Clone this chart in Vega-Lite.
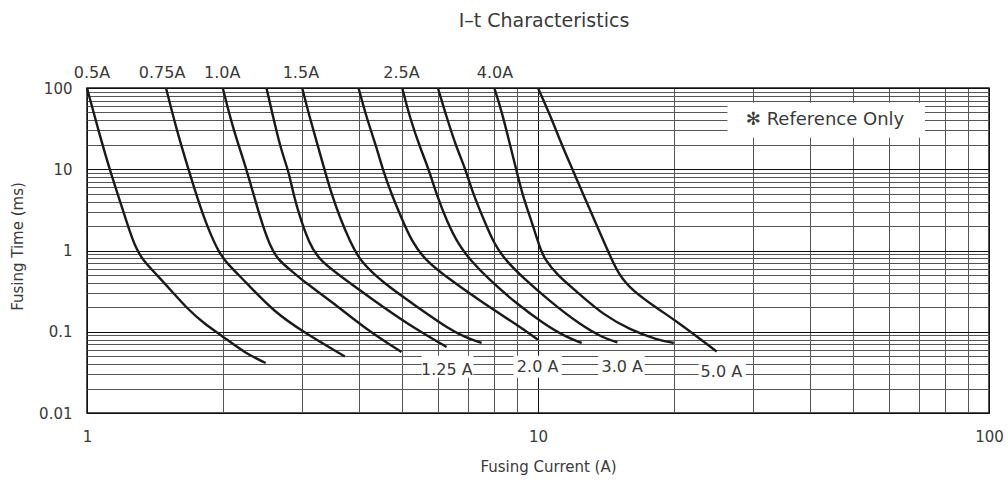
{
  "$schema": "https://vega.github.io/schema/vega-lite/v6.json",
  "width": 902,
  "height": 325,
  "autosize": {"type": "none"},
  "padding": {"left": 87, "top": 88, "right": 19, "bottom": 73},
  "background": "white",
  "config": {
    "font": "DejaVu Sans",
    "view": {"stroke": "#1a1a1a", "strokeWidth": 1.5}
  },
  "title": {
    "text": "I–t Characteristics",
    "fontSize": 19,
    "fontWeight": "normal",
    "color": "#3a3a3a",
    "anchor": "middle",
    "dx": 6,
    "offset": 34
  },
  "datasets": {
    "curves": [
      {"curve": "0.5A", "I": 1.0, "t": 100},
      {"curve": "0.5A", "I": 1.059, "t": 30.7},
      {"curve": "0.5A", "I": 1.122, "t": 10},
      {"curve": "0.5A", "I": 1.194, "t": 3.49},
      {"curve": "0.5A", "I": 1.24, "t": 1.8},
      {"curve": "0.5A", "I": 1.285, "t": 1.05},
      {"curve": "0.5A", "I": 1.333, "t": 0.75},
      {"curve": "0.5A", "I": 1.427, "t": 0.504},
      {"curve": "0.5A", "I": 1.554, "t": 0.3},
      {"curve": "0.5A", "I": 1.664, "t": 0.196},
      {"curve": "0.5A", "I": 1.811, "t": 0.128},
      {"curve": "0.5A", "I": 2.0, "t": 0.0877},
      {"curve": "0.5A", "I": 2.24, "t": 0.0547},
      {"curve": "0.5A", "I": 2.49, "t": 0.0412},

      {"curve": "0.75A", "I": 1.497, "t": 100},
      {"curve": "0.75A", "I": 1.58, "t": 30.7},
      {"curve": "0.75A", "I": 1.678, "t": 10},
      {"curve": "0.75A", "I": 1.781, "t": 3.49},
      {"curve": "0.75A", "I": 1.86, "t": 1.8},
      {"curve": "0.75A", "I": 1.96, "t": 0.95},
      {"curve": "0.75A", "I": 2.04, "t": 0.7},
      {"curve": "0.75A", "I": 2.26, "t": 0.398},
      {"curve": "0.75A", "I": 2.59, "t": 0.178},
      {"curve": "0.75A", "I": 3.04, "t": 0.0966},
      {"curve": "0.75A", "I": 3.73, "t": 0.0497},

      {"curve": "1.0A", "I": 2.0, "t": 100},
      {"curve": "1.0A", "I": 2.11, "t": 30.7},
      {"curve": "1.0A", "I": 2.26, "t": 10},
      {"curve": "1.0A", "I": 2.42, "t": 2.5},
      {"curve": "1.0A", "I": 2.55, "t": 1.1},
      {"curve": "1.0A", "I": 2.66, "t": 0.76},
      {"curve": "1.0A", "I": 2.8, "t": 0.6},
      {"curve": "1.0A", "I": 3.05, "t": 0.4},
      {"curve": "1.0A", "I": 3.52, "t": 0.226},
      {"curve": "1.0A", "I": 4.17, "t": 0.106},
      {"curve": "1.0A", "I": 4.98, "t": 0.0563},

      {"curve": "1.25A", "I": 2.5, "t": 100},
      {"curve": "1.25A", "I": 2.61, "t": 35.3},
      {"curve": "1.25A", "I": 2.7, "t": 16.6},
      {"curve": "1.25A", "I": 2.8, "t": 9.4},
      {"curve": "1.25A", "I": 2.87, "t": 4.86},
      {"curve": "1.25A", "I": 2.97, "t": 2.51},
      {"curve": "1.25A", "I": 3.1, "t": 1.29},
      {"curve": "1.25A", "I": 3.26, "t": 0.76},
      {"curve": "1.25A", "I": 3.83, "t": 0.398},
      {"curve": "1.25A", "I": 4.54, "t": 0.2},
      {"curve": "1.25A", "I": 5.38, "t": 0.106},
      {"curve": "1.25A", "I": 6.27, "t": 0.065},

      {"curve": "1.5A", "I": 3.0, "t": 100},
      {"curve": "1.5A", "I": 3.12, "t": 42.7},
      {"curve": "1.5A", "I": 3.26, "t": 18.3},
      {"curve": "1.5A", "I": 3.37, "t": 9.4},
      {"curve": "1.5A", "I": 3.49, "t": 4.86},
      {"curve": "1.5A", "I": 3.64, "t": 2.51},
      {"curve": "1.5A", "I": 3.83, "t": 1.29},
      {"curve": "1.5A", "I": 4.03, "t": 0.74},
      {"curve": "1.5A", "I": 4.54, "t": 0.398},
      {"curve": "1.5A", "I": 5.38, "t": 0.205},
      {"curve": "1.5A", "I": 6.38, "t": 0.106},
      {"curve": "1.5A", "I": 6.95, "t": 0.0838},
      {"curve": "1.5A", "I": 7.5, "t": 0.0728},

      {"curve": "2.0A", "I": 4.0, "t": 100},
      {"curve": "2.0A", "I": 4.17, "t": 42.7},
      {"curve": "2.0A", "I": 4.39, "t": 18.3},
      {"curve": "2.0A", "I": 4.54, "t": 9.4},
      {"curve": "2.0A", "I": 4.74, "t": 4.86},
      {"curve": "2.0A", "I": 4.98, "t": 2.51},
      {"curve": "2.0A", "I": 5.25, "t": 1.29},
      {"curve": "2.0A", "I": 5.62, "t": 0.76},
      {"curve": "2.0A", "I": 6.38, "t": 0.437},
      {"curve": "2.0A", "I": 7.56, "t": 0.226},
      {"curve": "2.0A", "I": 8.97, "t": 0.122},
      {"curve": "2.0A", "I": 10.0, "t": 0.0798},

      {"curve": "2.5A", "I": 5.0, "t": 100},
      {"curve": "2.5A", "I": 5.2, "t": 42.7},
      {"curve": "2.5A", "I": 5.48, "t": 18.3},
      {"curve": "2.5A", "I": 5.71, "t": 10.4},
      {"curve": "2.5A", "I": 5.96, "t": 4.86},
      {"curve": "2.5A", "I": 6.28, "t": 2.28},
      {"curve": "2.5A", "I": 6.66, "t": 1.18},
      {"curve": "2.5A", "I": 7.1, "t": 0.75},
      {"curve": "2.5A", "I": 7.75, "t": 0.45},
      {"curve": "2.5A", "I": 8.85, "t": 0.235},
      {"curve": "2.5A", "I": 10.3, "t": 0.125},
      {"curve": "2.5A", "I": 11.6, "t": 0.085},
      {"curve": "2.5A", "I": 12.5, "t": 0.0728},

      {"curve": "3.0A", "I": 6.0, "t": 100},
      {"curve": "3.0A", "I": 6.28, "t": 42.7},
      {"curve": "3.0A", "I": 6.6, "t": 18.3},
      {"curve": "3.0A", "I": 6.89, "t": 10.4},
      {"curve": "3.0A", "I": 7.19, "t": 4.86},
      {"curve": "3.0A", "I": 7.56, "t": 2.5},
      {"curve": "3.0A", "I": 8.0, "t": 1.18},
      {"curve": "3.0A", "I": 8.52, "t": 0.734},
      {"curve": "3.0A", "I": 9.28, "t": 0.459},
      {"curve": "3.0A", "I": 10.63, "t": 0.236},
      {"curve": "3.0A", "I": 12.4, "t": 0.122},
      {"curve": "3.0A", "I": 13.96, "t": 0.0838},
      {"curve": "3.0A", "I": 15.0, "t": 0.074},

      {"curve": "4.0A", "I": 8.0, "t": 100},
      {"curve": "4.0A", "I": 8.31, "t": 51.5},
      {"curve": "4.0A", "I": 8.67, "t": 20},
      {"curve": "4.0A", "I": 8.97, "t": 9.4},
      {"curve": "4.0A", "I": 9.28, "t": 4.43},
      {"curve": "4.0A", "I": 9.68, "t": 2.28},
      {"curve": "4.0A", "I": 10.1, "t": 1.07},
      {"curve": "4.0A", "I": 10.35, "t": 0.78},
      {"curve": "4.0A", "I": 11.0, "t": 0.504},
      {"curve": "4.0A", "I": 12.4, "t": 0.286},
      {"curve": "4.0A", "I": 13.96, "t": 0.162},
      {"curve": "4.0A", "I": 16.0, "t": 0.106},
      {"curve": "4.0A", "I": 18.33, "t": 0.0798},
      {"curve": "4.0A", "I": 20.0, "t": 0.0728},

      {"curve": "5.0A", "I": 10.0, "t": 100},
      {"curve": "5.0A", "I": 10.63, "t": 46.9},
      {"curve": "5.0A", "I": 11.29, "t": 20},
      {"curve": "5.0A", "I": 11.98, "t": 9.4},
      {"curve": "5.0A", "I": 12.7, "t": 4.43},
      {"curve": "5.0A", "I": 13.38, "t": 2.28},
      {"curve": "5.0A", "I": 14.2, "t": 1.07},
      {"curve": "5.0A", "I": 15.07, "t": 0.504},
      {"curve": "5.0A", "I": 16.27, "t": 0.314},
      {"curve": "5.0A", "I": 18.33, "t": 0.196},
      {"curve": "5.0A", "I": 20.3, "t": 0.134},
      {"curve": "5.0A", "I": 22.5, "t": 0.0877},
      {"curve": "5.0A", "I": 24.9, "t": 0.057}
    ],
    "labels": [
      {"kind": "top", "text": "0.5A", "I": 1.026, "t": 152},
      {"kind": "top", "text": "0.75A", "I": 1.467, "t": 152},
      {"kind": "top", "text": "1.0A", "I": 1.995, "t": 152},
      {"kind": "top", "text": "1.5A", "I": 2.98, "t": 152},
      {"kind": "top", "text": "2.5A", "I": 4.98, "t": 152},
      {"kind": "top", "text": "4.0A", "I": 8.03, "t": 152},
      {"kind": "bottom", "text": "1.25 A", "I": 6.28, "t": 0.0341},
      {"kind": "bottom", "text": "2.0 A", "I": 9.98, "t": 0.0364},
      {"kind": "bottom", "text": "3.0 A", "I": 15.37, "t": 0.0364},
      {"kind": "bottom", "text": "5.0 A", "I": 25.5, "t": 0.0316},
      {"kind": "note", "text": "✻ Reference Only", "I": 43.3, "t": 40.7}
    ],
    "boxes": [
      {"I": 5.52, "I2": 7.19, "t": 0.0272, "t2": 0.0507},
      {"I": 8.82, "I2": 11.29, "t": 0.0272, "t2": 0.0507},
      {"I": 13.6, "I2": 17.24, "t": 0.0272, "t2": 0.0507},
      {"I": 22.7, "I2": 28.9, "t": 0.023, "t2": 0.0453},
      {"I": 26.3, "I2": 72.1, "t": 24.4, "t2": 65.9}
    ]
  },
  "encoding": {
    "x": {
      "field": "I",
      "type": "quantitative",
      "scale": {"type": "log", "domain": [1, 100], "nice": false},
      "axis": {
        "title": "Fusing Current (A)",
        "values": [1, 2, 3, 4, 5, 6, 7, 8, 9, 10, 20, 30, 40, 50, 60, 70, 80, 90, 100],
        "format": "~g",
        "labelExpr": "indexof([1, 10, 100], datum.value) >= 0 ? datum.label : ''",
        "labelOverlap": false,
        "labelFlush": false,
        "ticks": false,
        "domain": false,
        "labelPadding": 16,
        "labelFontSize": 15,
        "labelColor": "#3a3a3a",
        "titleFontSize": 15,
        "titleFontWeight": "normal",
        "titleColor": "#3a3a3a",
        "titleX": 461,
        "titleY": 53,
        "titleBaseline": "middle",
        "titleAlign": "center",
        "grid": true,
        "gridColor": {"condition": {"test": "indexof([1, 10, 100], datum.value) >= 0", "value": "#111"}, "value": "#555"},
        "gridWidth": 1,
        "gridOpacity": 1
      }
    },
    "y": {
      "field": "t",
      "type": "quantitative",
      "scale": {"type": "log", "domain": [0.01, 100], "nice": false},
      "axis": {
        "title": "Fusing Time (ms)",
        "values": [0.01, 0.02, 0.03, 0.04, 0.05, 0.06, 0.07, 0.08, 0.09, 0.1, 0.2, 0.3, 0.4, 0.5, 0.6, 0.7, 0.8, 0.9, 1, 2, 3, 4, 5, 6, 7, 8, 9, 10, 20, 30, 40, 50, 60, 70, 80, 90, 100],
        "format": "~g",
        "labelExpr": "indexof([0.01, 0.1, 1, 10, 100], datum.value) >= 0 ? datum.label : ''",
        "labelOverlap": false,
        "labelFlush": false,
        "ticks": false,
        "domain": false,
        "labelPadding": 15,
        "labelFontSize": 15,
        "labelColor": "#3a3a3a",
        "titleFontSize": 15,
        "titleFontWeight": "normal",
        "titleColor": "#3a3a3a",
        "titleAngle": -90,
        "titleX": -70,
        "titleY": 158,
        "titleBaseline": "middle",
        "titleAlign": "center",
        "grid": true,
        "gridColor": {"condition": {"test": "indexof([0.01, 0.1, 1, 10, 100], datum.value) >= 0", "value": "#111"}, "value": "#555"},
        "gridWidth": 1,
        "gridOpacity": 1
      }
    }
  },
  "layer": [
    {
      "data": {"name": "boxes"},
      "mark": {"type": "rect", "fill": "white", "strokeWidth": 0},
      "encoding": {
        "x2": {"field": "I2"},
        "y2": {"field": "t2"}
      }
    },
    {
      "data": {"name": "curves"},
      "mark": {"type": "line", "color": "#1a1a1a", "strokeWidth": 2.4, "interpolate": "basis"},
      "encoding": {
        "detail": {"field": "curve", "type": "nominal"}
      }
    },
    {
      "data": {"name": "labels"},
      "transform": [{"filter": "datum.kind == 'top' || datum.kind == 'bottom'"}],
      "mark": {"type": "text", "fontSize": 16, "color": "#3a3a3a", "align": "center", "baseline": "middle"},
      "encoding": {"text": {"field": "text", "type": "nominal"}}
    },
    {
      "data": {"name": "labels"},
      "transform": [{"filter": "datum.kind == 'note'"}],
      "mark": {"type": "text", "fontSize": 18, "color": "#3a3a3a", "align": "center", "baseline": "middle"},
      "encoding": {"text": {"field": "text", "type": "nominal"}}
    }
  ]
}
